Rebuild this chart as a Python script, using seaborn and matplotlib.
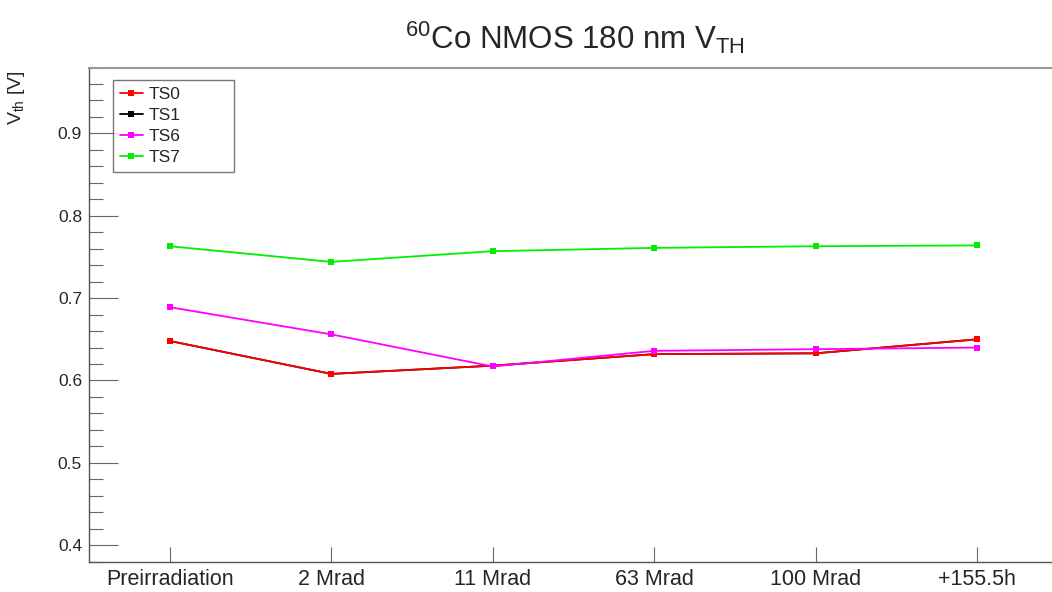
import matplotlib
matplotlib.use("Agg")
import matplotlib.pyplot as plt
import seaborn as sns
import pandas as pd
from matplotlib.ticker import MultipleLocator

categories = ["Preirradiation", "2 Mrad", "11 Mrad", "63 Mrad", "100 Mrad", "+155.5h"]
ts0 = [0.648, 0.608, 0.618, 0.632, 0.633, 0.650]
ts1 = [0.648, 0.608, 0.618, 0.632, 0.633, 0.650]
ts6 = [0.689, 0.656, 0.617, 0.636, 0.638, 0.640]
ts7 = [0.763, 0.744, 0.757, 0.761, 0.763, 0.764]
series_names = ["TS0", "TS1", "TS6", "TS7"]
colors = {"TS0": "#ff0000", "TS1": "#000000", "TS6": "#ff00ff", "TS7": "#00ee00"}

rows = []
for name, vals in zip(series_names, [ts0, ts1, ts6, ts7]):
    for i, (c, v) in enumerate(zip(categories, vals)):
        rows.append({"series": name, "idx": i, "cat": c, "vth": v})
df = pd.DataFrame(rows)

sns.set_theme(style="white")
plt.rcParams["font.family"] = ["Liberation Sans", "DejaVu Sans"]
plt.rcParams["mathtext.fontset"] = "custom"
plt.rcParams["mathtext.rm"] = "Liberation Sans"
plt.rcParams["mathtext.it"] = "Liberation Sans"

fig = plt.figure(figsize=(10.52, 5.92), dpi=100)
ax = fig.add_axes([89 / 1052, 1 - 561.7 / 592, (1058 - 89) / 1052, (561.7 - 67.5) / 592])

draw_order = ["TS1", "TS0", "TS6", "TS7"]
for z, name in enumerate(draw_order):
    sub = df[df["series"] == name]
    sns.lineplot(data=sub, x="idx", y="vth", ax=ax, color=colors[name],
                 marker="s", markersize=4.5, markeredgewidth=0, linewidth=1.3,
                 label=name, zorder=3 + z, estimator=None, sort=False)

h, l = ax.get_legend_handles_labels()
hmap = dict(zip(l, h))
leg = ax.legend([hmap[n] for n in series_names], series_names, loc="upper left",
                bbox_to_anchor=(0.0248, 0.783, 0.1249, 0.192), mode="expand",
                borderaxespad=0, frameon=True,
                fancybox=False, fontsize=12.5, handlelength=1.3, handletextpad=0.35,
                labelspacing=0.33, borderpad=0.4)
leg.get_frame().set_edgecolor("#555555")
leg.get_frame().set_linewidth(1.0)

ax.set_xlim(-0.5, 5.5)
ax.set_ylim(0.38, 0.98)
ax.set_xticks(range(len(categories)))
ax.set_xticklabels(categories, fontsize=15.5)
ax.yaxis.set_minor_locator(MultipleLocator(0.02))
ax.set_yticks([0.4, 0.5, 0.6, 0.7, 0.8, 0.9])
ax.set_yticklabels(["0.4", "0.5", "0.6", "0.7", "0.8", "0.9"], fontsize=12.5)
ax.tick_params(axis="y", which="major", direction="in", length=21, width=0.8,
               color="#666666", pad=5, left=True)
ax.tick_params(axis="y", which="minor", direction="in", length=10, width=0.8,
               color="#666666", left=True)
ax.tick_params(axis="x", which="major", direction="in", length=11, width=0.8,
               color="#666666", pad=5, bottom=True)
ax.set_xlabel("")
ax.set_ylabel(r"V$_{\mathregular{th}}$ [V]", fontsize=14, loc="top")
ax.yaxis.set_label_coords(-0.064, 0.995)
for s in ["left", "bottom"]:
    ax.spines[s].set_color("#555555")
    ax.spines[s].set_linewidth(1.0)
ax.spines["top"].set_color("#999999")
ax.spines["top"].set_linewidth(1.5)
ax.spines["right"].set_visible(False)
ax.grid(False)

fig.text(575 / 1052, 1 - 38 / 592, r"$^{\mathregular{60}}$Co NMOS 180 nm V$_{\mathregular{TH}}$",
         ha="center", va="center", fontsize=22.5)

fig.savefig("out.png", dpi=100)
